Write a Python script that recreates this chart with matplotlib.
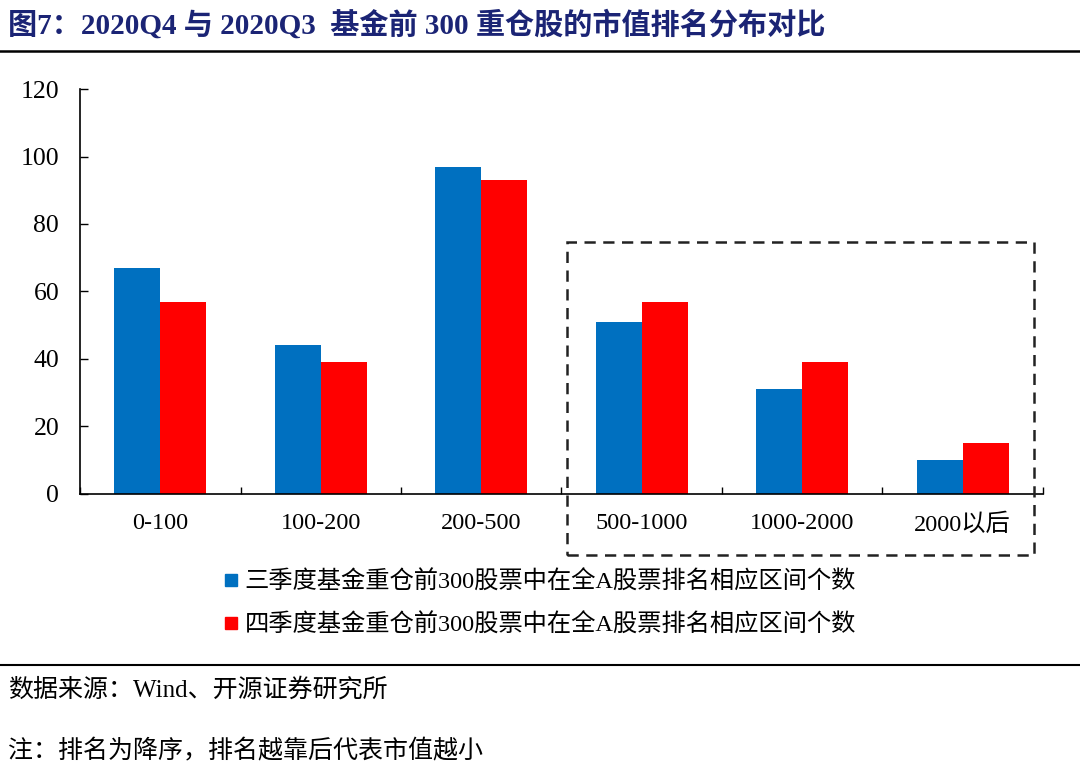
import matplotlib.pyplot as plt
import matplotlib.patches as patches
from matplotlib.lines import Line2D
import numpy as np

plt.rcParams['font.family'] = ['Liberation Serif', 'Noto Sans CJK SC']

# data
categories = ['0-100', '100-200', '200-500', '500-1000', '1000-2000', '2000以后']
q3_counts = [67, 44, 97, 51, 31, 10]
q4_counts = [57, 39, 93, 57, 39, 15]
q3_label = '三季度基金重仓前300股票中在全A股票排名相应区间个数'
q4_label = '四季度基金重仓前300股票中在全A股票排名相应区间个数'

blue = '#0070C0'
red = '#FF0000'

fig = plt.figure(figsize=(10.8, 7.68), dpi=100)
ax = fig.add_axes([0.0741, 0.3568, 0.8916, 0.5273])

x = np.arange(len(categories))
w = 0.287
ax.bar(x - w / 2, q3_counts, w, color=blue, label=q3_label)
ax.bar(x + w / 2, q4_counts, w, color=red, label=q4_label)

ax.set_xlim(-0.5, len(categories) - 0.5)
ax.set_ylim(0, 120)
ax.set_yticks(range(0, 121, 20))
ax.tick_params(axis='y', direction='in', length=6, width=1, labelsize=18.5, pad=15)
ax.set_xticks(x)
ax.set_xticklabels(categories, fontsize=17.5)
ax.tick_params(axis='x', length=0, pad=14)
# boundary ticks between categories
ax.set_xticks(np.arange(-0.5, len(categories)), minor=True)
ax.tick_params(axis='x', which='minor', direction='in', length=5, width=1)

for s in ['top', 'right']:
    ax.spines[s].set_visible(False)
for s in ['left', 'bottom']:
    ax.spines[s].set_linewidth(1.2)

# legend
handles = [Line2D([], [], marker='s', linestyle='', color=blue, markersize=9),
           Line2D([], [], marker='s', linestyle='', color=red, markersize=9)]
fig.legend(handles, [q3_label, q4_label], loc='upper left',
           bbox_to_anchor=(0.196, 0.2695), frameon=False, fontsize=17.5,
           handlelength=0.8, handletextpad=0.15, labelspacing=0.82, borderaxespad=0)

# dashed highlight box
box = patches.Rectangle((567 / 1080, 1 - 555 / 768), 467 / 1080, 313 / 768,
                        transform=fig.transFigure, fill=False, linestyle=(0, (4.5, 3)),
                        linewidth=1.8, edgecolor='#222222', clip_on=False)
fig.patches.append(box)

# title and rules
fig.text(0.007, 1 - 25 / 768, '图7：2020Q4 与 2020Q3  基金前 300 重仓股的市值排名分布对比',
         fontsize=21, fontweight='bold', color='#1B2475', va='center', ha='left')
fig.add_artist(Line2D([0, 1], [1 - 51 / 768] * 2, color='black', linewidth=1.8,
                      transform=fig.transFigure))
fig.add_artist(Line2D([0, 1], [1 - 665 / 768] * 2, color='black', linewidth=1.5,
                      transform=fig.transFigure))

fig.text(0.007, 1 - 690 / 768, '数据来源：Wind、开源证券研究所', fontsize=18,
         va='center', ha='left')
fig.text(0.007, 1 - 751 / 768, '注：排名为降序，排名越靠后代表市值越小', fontsize=18,
         va='center', ha='left')

fig.savefig('out.png', dpi=100)
